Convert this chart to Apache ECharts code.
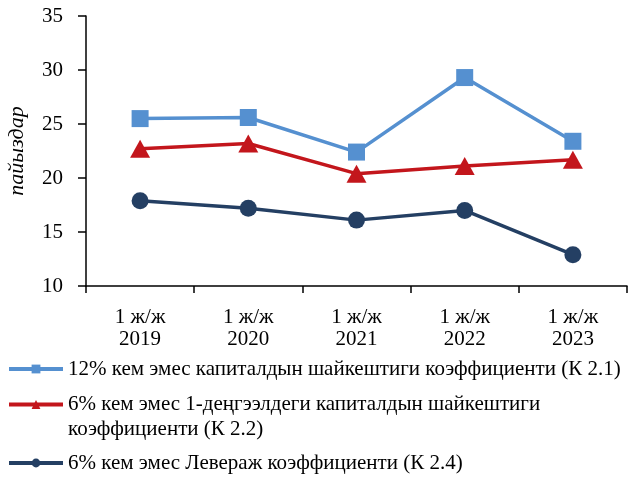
<!DOCTYPE html>
<html>
<head>
<meta charset="utf-8">
<script src="https://cdn.jsdelivr.net/npm/echarts@6/dist/echarts.min.js"></script>
<style>
  html, body { margin: 0; padding: 0; background: #fff; }
  #chart { width: 637px; height: 477px; }
</style>
</head>
<body>
<div id="chart"></div>
<script>
// Half-year periods on the category axis
const categories = ['1 ж/ж\n2019', '1 ж/ж\n2020', '1 ж/ж\n2021', '1 ж/ж\n2022', '1 ж/ж\n2023'];

// Capital adequacy ratios, percent
const seriesNames = [
  '12% кем эмес капиталдын шайкештиги коэффициенти (К 2.1)',
  '6% кем эмес 1-деңгээлдеги капиталдын шайкештиги коэффициенти (К 2.2)',
  '6% кем эмес Левераж коэффициенти (К 2.4)'
];
const k21 = [25.5, 25.6, 22.4, 29.3, 23.4];
const k22 = [22.7, 23.2, 20.4, 21.1, 21.7];
const k24 = [17.9, 17.2, 16.1, 17.0, 12.9];

const yTicks = [10, 15, 20, 25, 30, 35];
const yAxisTitle = 'пайыздар';

const FONT = '"Liberation Serif", "Times New Roman", serif';
const colors = ['#5590D0', '#C3161C', '#243F63'];

const chart = echarts.init(document.getElementById('chart'), null, { renderer: 'canvas' });

const legendText = { fontFamily: FONT, fontSize: 21, color: '#000', lineHeight: 24 };
const legendBase = {
  left: 7,
  padding: 0,
  itemWidth: 54,
  itemHeight: 11,
  itemGap: 0,
  selectedMode: false,
  lineStyle: { width: 4 },
  textStyle: legendText
};

chart.setOption({
  animation: false,
  backgroundColor: '#fff',
  grid: { left: 86, right: 10, top: 16, bottom: 191, containLabel: false, outerBoundsMode: 'none' },
  xAxis: {
    type: 'category',
    data: categories,
    boundaryGap: true,
    axisLine: { lineStyle: { color: '#000', width: 1.5 } },
    axisTick: { show: true, length: 7, alignWithLabel: false, lineStyle: { color: '#000', width: 1.5 } },
    axisLabel: { fontFamily: FONT, fontSize: 21, color: '#000', lineHeight: 22, margin: 20 },
    splitLine: { show: false }
  },
  yAxis: {
    type: 'value',
    min: yTicks[0],
    max: yTicks[yTicks.length - 1],
    interval: yTicks[1] - yTicks[0],
    name: yAxisTitle,
    nameLocation: 'middle',
    nameRotate: 90,
    nameGap: 58,
    nameTextStyle: { fontFamily: FONT, fontSize: 22, fontStyle: 'italic', color: '#000' },
    axisLine: { show: true, lineStyle: { color: '#000', width: 1.5 } },
    axisTick: { show: true, length: 8, lineStyle: { color: '#000', width: 1.5 } },
    axisLabel: { fontFamily: FONT, fontSize: 21, color: '#000', margin: 23 },
    splitLine: { show: false }
  },
  legend: [
    Object.assign({}, legendBase, { data: [seriesNames[0]], top: 357 }),
    Object.assign({}, legendBase, {
      data: [seriesNames[1]],
      top: 367,
      // leading blank line keeps the icon level with the first text line
      formatter: () => '\n6% кем эмес 1-деңгээлдеги капиталдын шайкештиги\nкоэффициенти (К 2.2)',
      textStyle: Object.assign({}, legendText, { lineHeight: 25 })
    }),
    Object.assign({}, legendBase, { data: [seriesNames[2]], top: 451 })
  ],
  series: [
    {
      name: seriesNames[0], type: 'line', data: k21,
      symbol: 'rect', symbolSize: 17,
      lineStyle: { color: colors[0], width: 3.5 },
      itemStyle: { color: colors[0] }
    },
    {
      name: seriesNames[1], type: 'line', data: k22,
      symbol: 'triangle', symbolSize: [20, 18],
      lineStyle: { color: colors[1], width: 3.5 },
      itemStyle: { color: colors[1] }
    },
    {
      name: seriesNames[2], type: 'line', data: k24,
      symbol: 'circle', symbolSize: 17,
      lineStyle: { color: colors[2], width: 3.5 },
      itemStyle: { color: colors[2] }
    }
  ]
});
</script>
</body>
</html>
